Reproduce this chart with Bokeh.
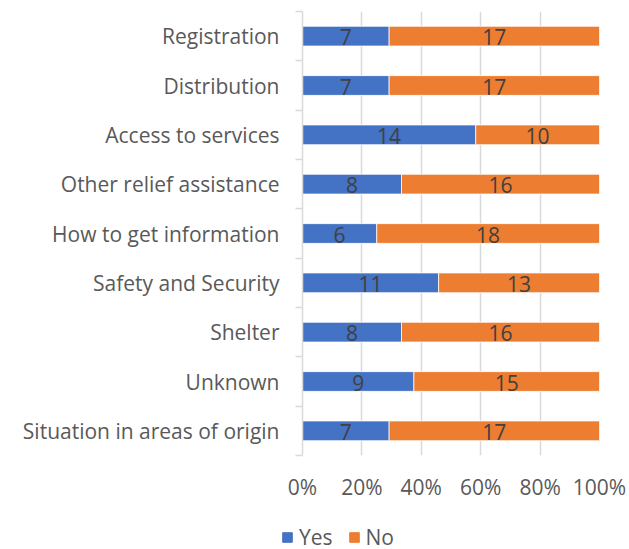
from bokeh.plotting import figure
from bokeh.models import ColumnDataSource, FixedTicker, Legend, LegendItem, NumeralTickFormatter, LabelSet
from bokeh.core.properties import value
from bokeh.embed import file_html
from bokeh.resources import INLINE

categories = ["Registration", "Distribution", "Access to services", "Other relief assistance",
              "How to get information", "Safety and Security", "Shelter", "Unknown",
              "Situation in areas of origin"]
yes = [7, 7, 14, 8, 6, 11, 8, 9, 7]
no = [17, 17, 10, 16, 18, 13, 16, 15, 17]
series = ["Yes", "No"]
x_ticks = [0, 0.2, 0.4, 0.6, 0.8, 1.0]

BLUE = "#4472C4"
ORANGE = "#ED7D31"
FONT = "Open Sans"
n = len(categories)
ypos = [n - 1 - i + 0.5 for i in range(n)]
tot = [a + b for a, b in zip(yes, no)]
yes_p = [a / t for a, t in zip(yes, tot)]
no_p = [b / t for b, t in zip(no, tot)]
src = ColumnDataSource(dict(
    y=ypos, yes=yes_p, no=no_p,
    yes_c=[p / 2 for p in yes_p],
    no_c=[a + b / 2 for a, b in zip(yes_p, no_p)],
    yes_t=[str(v) for v in yes], no_t=[str(v) for v in no],
))

p = figure(width=629, height=515, x_range=(0, 1), y_range=(0, n),
           output_backend="svg", toolbar_location=None,
           min_border_left=302, min_border_right=30, min_border_top=11, min_border_bottom=60)
p.outline_line_color = None

rs = p.hbar_stack(["yes", "no"], y="y", height=0.4, color=[BLUE, ORANGE], source=src,
                  line_color="white", line_width=0.75)

for xcol, tcol in (("yes_c", "yes_t"), ("no_c", "no_t")):
    p.add_layout(LabelSet(x=xcol, y="y", text=tcol, source=src, text_align="center",
                          text_baseline="middle", text_font=value(FONT), text_font_size="21px",
                          text_color="#404040", y_offset=-1))

# x axis
p.xaxis.ticker = FixedTicker(ticks=x_ticks)
p.xaxis.formatter = NumeralTickFormatter(format="0%")
p.xaxis.axis_line_color = None
p.xaxis.major_tick_line_color = None
p.xaxis.minor_tick_line_color = None
p.xaxis.major_label_text_font = FONT
p.xaxis.major_label_text_font_size = "21px"
p.xaxis.major_label_text_color = "#595959"
p.xaxis.major_label_standoff = 11

# y axis
p.yaxis.ticker = FixedTicker(ticks=ypos, minor_ticks=list(range(n + 1)))
p.yaxis.major_label_overrides = {y: c for y, c in zip(ypos, categories)}
p.yaxis.axis_line_color = "#d9d9d9"
p.yaxis.axis_line_width = 1.5
p.yaxis.major_tick_line_color = None
p.yaxis.major_tick_out = 0
p.yaxis.major_tick_in = 0
p.yaxis.minor_tick_line_color = "#d9d9d9"
p.yaxis.minor_tick_line_width = 1.5
p.yaxis.minor_tick_out = 7
p.yaxis.minor_tick_in = 0
p.yaxis.major_label_text_font = FONT
p.yaxis.major_label_text_font_size = "21px"
p.yaxis.major_label_text_color = "#595959"
p.yaxis.major_label_standoff = 16

p.xgrid.ticker = FixedTicker(ticks=x_ticks)
p.xgrid.grid_line_color = "#d9d9d9"
p.xgrid.grid_line_width = 1.5
p.ygrid.grid_line_color = None

# legend strip below the chart (separate root so its frame is the full strip)
p2 = figure(width=629, height=34, output_backend="svg", toolbar_location=None,
            min_border=0, x_range=(0, 1), y_range=(0, 1))
p2.outline_line_color = None
p2.axis.visible = False
p2.grid.visible = False
# proxy renderers for the legend swatches, placed outside the strip's visible range
proxy = ColumnDataSource(dict(y=[-10], a=[0], b=[1]))
lr = [p2.hbar(y="y", left="a", right="b", height=0.4, color=c, source=proxy) for c in (BLUE, ORANGE)]

legend = Legend(items=[LegendItem(label=s, renderers=[r]) for s, r in zip(series, lr)],
                orientation="horizontal", location=(281, -2),
                glyph_width=12, glyph_height=12, label_standoff=6, spacing=15,
                padding=0, margin=0, border_line_color=None, background_fill_alpha=0,
                label_text_font=FONT, label_text_font_size="21px",
                label_text_color="#595959")
p2.add_layout(legend, "center")

open("out.html", "w").write(file_html([p, p2], INLINE))
